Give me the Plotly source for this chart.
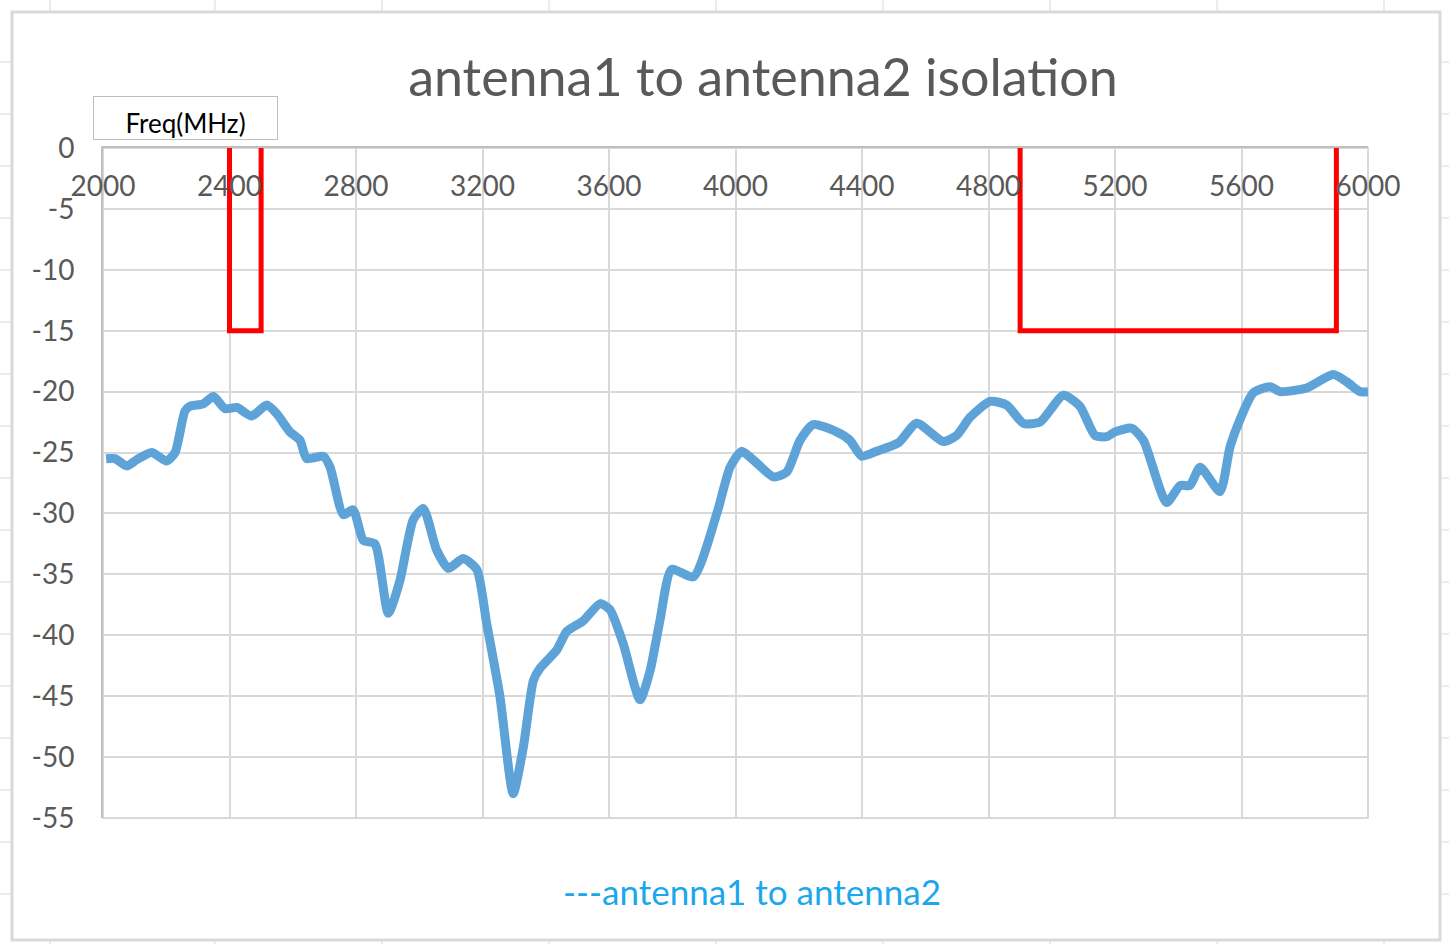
import plotly.graph_objects as go

# ---- data ----
freq_mhz = [2010, 2038, 2075, 2106, 2154, 2201, 2228, 2259, 2275, 2317, 2349, 2386, 2423, 2470,
            2518, 2549, 2591, 2623, 2644, 2697, 2718, 2760, 2791, 2823, 2860, 2902, 2939, 2981,
            3013, 3055, 3092, 3139, 3182, 3213, 3255, 3297, 3329, 3361, 3382, 3435, 3466, 3519,
            3572, 3603, 3645, 3698, 3730, 3761, 3798, 3867, 3941, 3983, 4019, 4056, 4120, 4162,
            4204, 4246, 4320, 4362, 4399, 4446, 4515, 4573, 4657, 4699, 4742, 4805, 4858, 4910,
            4963, 5037, 5089, 5137, 5174, 5200, 5253, 5290, 5363, 5406, 5437, 5469, 5532, 5564,
            5595, 5637, 5690, 5722, 5806, 5890, 5933, 5975, 6000]
isolation_db = [-25.5, -25.5, -26.1, -25.6, -25.0, -25.7, -25.0, -21.6, -21.2, -21.0, -20.4, -21.4,
                -21.3, -22.0, -21.1, -21.8, -23.3, -24.0, -25.5, -25.3, -26.2, -30.1, -29.7, -32.2,
                -32.5, -38.2, -35.5, -30.5, -29.6, -33.0, -34.5, -33.7, -34.6, -39.0, -45.0, -53.0,
                -49.2, -43.7, -42.7, -41.2, -39.7, -38.8, -37.4, -37.9, -40.7, -45.3, -42.9, -38.8,
                -34.6, -35.2, -30.0, -26.2, -24.9, -25.6, -27.0, -26.6, -24.0, -22.7, -23.3, -24.0,
                -25.3, -24.9, -24.2, -22.6, -24.1, -23.6, -22.1, -20.8, -21.1, -22.6, -22.5, -20.3,
                -21.2, -23.6, -23.7, -23.3, -23.0, -24.0, -29.1, -27.7, -27.7, -26.2, -28.2, -24.5,
                -22.3, -20.1, -19.6, -20.0, -19.7, -18.6, -19.2, -20.0, -20.0]

band1_x = [2400, 2400, 2500, 2500]
band1_y = [0, -15, -15, 0]
band2_x = [4900, 4900, 5900, 5900]
band2_y = [0, -15, -15, 0]

x_ticks = list(range(2000, 6001, 400))
y_ticks = list(range(0, -56, -5))
y_ticktext = [str(v) for v in y_ticks]  # plain hyphen, as in the original

# ---- layout geometry (page pixels) ----
W, H = 1449, 944
L, R, T, B = 103, 1368, 148, 818


def px_x(p):
    return (p - L) / (R - L)


def px_y(p):
    return (B - p) / (B - T)


FONT = "Lato, Open Sans, sans-serif"

fig = go.Figure()
fig.add_trace(go.Scatter(x=freq_mhz, y=isolation_db, mode="lines",
                         line=dict(color="#5DA3D8", width=9, shape="spline", smoothing=0.6),
                         showlegend=False))
for bx, by in ((band1_x, band1_y), (band2_x, band2_y)):
    fig.add_trace(go.Scatter(x=bx, y=by, mode="lines",
                             line=dict(color="#FF0000", width=5),
                             showlegend=False))

grid = "#D9D9D9"
tickfont = dict(family=FONT, size=28, color="#595959")

fig.update_layout(
    width=W, height=H,
    margin=dict(l=L, r=W - R, t=T, b=H - B),
    paper_bgcolor="white", plot_bgcolor="white",
    title=dict(text="antenna1 to antenna2 isolation", x=763 / W, xanchor="center",
               y=1 - 78 / H, yanchor="middle", yref="container",
               font=dict(family=FONT, size=52, color="#595959")),
    xaxis=dict(range=[2000, 6000], tickvals=x_ticks, side="top",
               ticklabelposition="inside", ticklabeloverflow="allow", ticklabelstandoff=31,
               showgrid=True, gridcolor=grid, gridwidth=2, zeroline=False,
               showline=True, linecolor="#BFBFBF", linewidth=2, ticks="",
               tickfont=tickfont, fixedrange=True),
    yaxis=dict(range=[-55, 0], tickvals=y_ticks, ticktext=y_ticktext,
               showgrid=True, gridcolor=grid, gridwidth=2,
               zeroline=False, showline=True, linecolor="#BFBFBF", linewidth=2, ticks="",
               ticklabelstandoff=21, tickfont=tickfont, fixedrange=True),
    showlegend=False,
)

# right / bottom frame of plot area
fig.add_shape(type="rect", xref="paper", yref="paper", x0=0, x1=1, y0=0, y1=1,
              line=dict(color=grid, width=2), layer="below")
# outer chart-area border
fig.add_shape(type="rect", xref="paper", yref="paper",
              x0=px_x(12), x1=px_x(1440), y0=px_y(940), y1=px_y(12),
              line=dict(color="#D9D9D9", width=3))
# spreadsheet cell borders visible around the chart
for cx in (50, 215, 382, 549, 716, 883, 1050, 1217, 1384):
    fig.add_shape(type="line", xref="paper", yref="paper", x0=px_x(cx), x1=px_x(cx),
                  y0=px_y(0), y1=px_y(11), line=dict(color="#D9D9D9", width=1))
    fig.add_shape(type="line", xref="paper", yref="paper", x0=px_x(cx), x1=px_x(cx),
                  y0=px_y(941), y1=px_y(944), line=dict(color="#D9D9D9", width=1))
for ry in range(62, 900, 52):
    fig.add_shape(type="line", xref="paper", yref="paper", x0=px_x(0), x1=px_x(11),
                  y0=px_y(ry), y1=px_y(ry), line=dict(color="#D9D9D9", width=1))
    fig.add_shape(type="line", xref="paper", yref="paper", x0=px_x(1441), x1=px_x(1449),
                  y0=px_y(ry), y1=px_y(ry), line=dict(color="#D9D9D9", width=1))

fig.add_annotation(text="Freq(MHz)", xref="paper", yref="paper",
                   x=px_x(93), y=px_y(96), xanchor="left", yanchor="top",
                   width=183, height=42, valign="bottom", align="center",
                   showarrow=False, bordercolor="#BFBFBF", borderwidth=1, borderpad=0,
                   font=dict(family=FONT, size=26, color="#000000"))

fig.add_annotation(text="---antenna1 to antenna2", xref="paper", yref="paper",
                   x=px_x(752), y=px_y(891), xanchor="center", yanchor="middle",
                   showarrow=False,
                   font=dict(family=FONT, size=35, color="#1AA7EC"))

fig.write_html("out.html", post_script="document.body.style.margin='0';",
               config={"displayModeBar": False})
